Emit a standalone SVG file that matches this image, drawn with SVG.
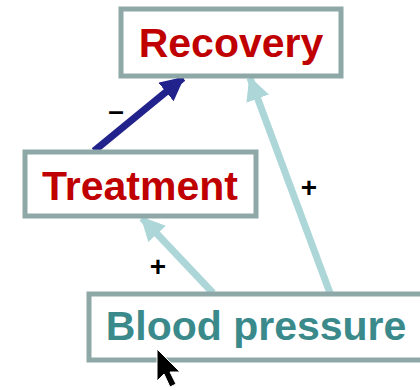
<svg xmlns="http://www.w3.org/2000/svg" width="420" height="390" viewBox="0 0 420 390">
  <style>
    .box { fill: #ffffff; stroke: #8ea8a7; stroke-width: 5; }
    .lbl { font-family: "Liberation Sans", Arial, sans-serif; font-weight: bold; font-size: 41px; }
    .red { fill: #c00000; }
    .teal { fill: #3b8a8b; }
    .sign { font-family: "Liberation Sans", Arial, sans-serif; font-weight: bold; font-size: 28px; fill: #000000; }
    .neg { stroke: #22228c; stroke-width: 7; fill: none; }
    .pos { stroke: #acd6d8; stroke-width: 7; fill: none; }
  </style>
  <defs>
    <marker id="headNeg" markerUnits="userSpaceOnUse" viewBox="0 0 24 24" refX="22" refY="12" markerWidth="24" markerHeight="24" orient="auto">
      <path d="M0,0 L24,12 L0,24 Z" fill="#22228c"/>
    </marker>
    <marker id="headPos" markerUnits="userSpaceOnUse" viewBox="0 0 24 24" refX="22" refY="12" markerWidth="24" markerHeight="24" orient="auto">
      <path d="M0,0 L24,12 L0,24 Z" fill="#acd6d8"/>
    </marker>
  </defs>
  <rect width="420" height="390" fill="#ffffff"/>

  <g id="connectors">
    <line class="neg" x1="94" y1="151" x2="183" y2="78" marker-end="url(#headNeg)"/>
    <line class="pos" x1="213" y1="293" x2="142" y2="218" marker-end="url(#headPos)"/>
    <line class="pos" x1="330" y1="293" x2="250" y2="78" marker-end="url(#headPos)"/>
    <text class="sign" x="116" y="120" text-anchor="middle" font-size="32">–</text>
    <text class="sign" x="309" y="197" text-anchor="middle">+</text>
    <text class="sign" x="158" y="276" text-anchor="middle">+</text>
  </g>

  <g id="recovery">
    <rect class="box" x="121" y="9" width="220" height="67"/>
    <text class="lbl red" x="231" y="57" text-anchor="middle">Recovery</text>
  </g>

  <g id="treatment">
    <rect class="box" x="25" y="152" width="231" height="64"/>
    <text class="lbl red" x="140" y="200" text-anchor="middle">Treatment</text>
  </g>

  <g id="blood-pressure">
    <rect class="box" x="89" y="294" width="340" height="66"/>
    <text class="lbl teal" x="256" y="340" text-anchor="middle">Blood pressure</text>
  </g>

  <!-- mouse pointer -->
  <path d="M157,349 L157,381 L164,374 L170,387 L176,384 L170,372 L180,372 Z" fill="#000000" stroke="#ffffff" stroke-width="1"/>
</svg>
